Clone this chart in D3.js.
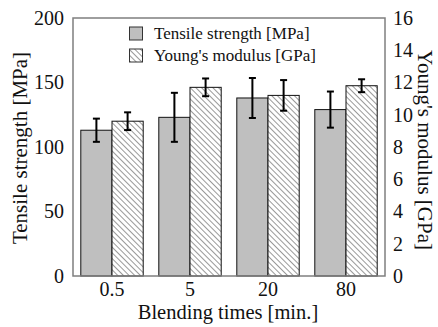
<!DOCTYPE html>
<html><head><meta charset="utf-8">
<style>svg text, text { font-family: Liberation Serif, Times New Roman, serif !important; }</style>
<script src="https://cdn.jsdelivr.net/npm/d3@7"></script>
</head><body style="margin:0;background:#fff">
<svg id="c" width="438" height="327" style="display:block">
<text transform="translate(27,148) rotate(-90)" text-anchor="middle" font-size="21" fill="#111" style="font-family:'Liberation Serif'">Tensile strength [MPa]</text>
<text transform="translate(418,150) rotate(90)" text-anchor="middle" font-size="21" fill="#111" style="font-family:'Liberation Serif'">Young's modulus [GPa]</text>
<text x="228" y="319" text-anchor="middle" font-size="20.5" fill="#111" style="font-family:'Liberation Serif'">Blending times [min.]</text>
</svg>
<script>
const categories = ["0.5", "5", "20", "80"];
const tensile = [113, 123, 138, 129];
const tensileErr = [9, 19, 15.5, 14];
const modulus = [9.6, 11.7, 11.2, 11.8];
const modulusErr = [0.55, 0.55, 0.95, 0.4];
const leftTicks = [0, 50, 100, 150, 200];
const rightTicks = [0, 2, 4, 6, 8, 10, 12, 14, 16];

const FONT = "Liberation Serif";
const svg = d3.select("#c");
const L = 73, R = 385, T = 18, B = 276;

const defs = svg.append("defs");
const pat = defs.append("pattern").attr("id","hatch").attr("patternUnits","userSpaceOnUse")
  .attr("width",4).attr("height",4).attr("patternTransform","rotate(-45)");
pat.append("rect").attr("width",4).attr("height",4).attr("fill","#fff");
pat.append("line").attr("x1",0).attr("y1",0).attr("x2",0).attr("y2",4).attr("stroke","#333").attr("stroke-width",1);

const x = d3.scaleBand().domain(categories).range([L,R]).paddingInner(0.2).paddingOuter(0.1);
const xs = d3.scaleBand().domain(["t","m"]).range([0,x.bandwidth()]);
const yL = d3.scaleLinear().domain([0,200]).range([B,T]);
const yR = d3.scaleLinear().domain([0,16]).range([B,T]);

const g = svg.append("g");
categories.forEach((c,i)=>{
  const x0 = x(c);
  g.append("rect").attr("x",x0+xs("t")).attr("y",yL(tensile[i])).attr("width",xs.bandwidth())
    .attr("height",B-yL(tensile[i])).attr("fill","#bfbfbf").attr("stroke","#111").attr("stroke-width",1);
  g.append("rect").attr("x",x0+xs("m")).attr("y",yR(modulus[i])).attr("width",xs.bandwidth())
    .attr("height",B-yR(modulus[i])).attr("fill","url(#hatch)").attr("stroke","#111").attr("stroke-width",1);
});
function err(cx, y1, y2){
  g.append("line").attr("x1",cx).attr("x2",cx).attr("y1",y1).attr("y2",y2).attr("stroke","#000").attr("stroke-width",2);
  [y1,y2].forEach(yy=>g.append("line").attr("x1",cx-3.5).attr("x2",cx+3.5).attr("y1",yy).attr("y2",yy).attr("stroke","#000").attr("stroke-width",2));
}
categories.forEach((c,i)=>{
  const cx1 = x(c)+xs("t")+xs.bandwidth()/2;
  err(cx1, yL(tensile[i]+tensileErr[i]), yL(tensile[i]-tensileErr[i]));
  const cx2 = x(c)+xs("m")+xs.bandwidth()/2;
  err(cx2, yR(modulus[i]+modulusErr[i]), yR(modulus[i]-modulusErr[i]));
});

svg.append("rect").attr("x",L).attr("y",T).attr("width",R-L).attr("height",B-T)
  .attr("fill","none").attr("stroke","#7f7f7f").attr("stroke-width",1.5);

const axL = svg.append("g").attr("transform",`translate(${L},0)`)
  .call(d3.axisLeft(yL).tickValues(leftTicks).tickSize(0).tickPadding(9));
const axR = svg.append("g").attr("transform",`translate(${R},0)`)
  .call(d3.axisRight(yR).tickValues(rightTicks).tickSize(0).tickPadding(8));
const axB = svg.append("g").attr("transform",`translate(0,${B})`)
  .call(d3.axisBottom(x).tickSize(0).tickPadding(6));
[axL,axR,axB].forEach(a=>{a.select(".domain").remove();
  a.attr("font-family",FONT).attr("font-size",20);
  a.selectAll("text").attr("fill","#111");});

const leg = [{t:"Tensile strength [MPa]", f:"#bfbfbf"},{t:"Young's modulus [GPa]", f:"url(#hatch)"}];
leg.forEach((d,i)=>{
  const yy = 27 + i*22;
  svg.append("rect").attr("x",129.5).attr("y",yy).attr("width",13).attr("height",13)
    .attr("fill",d.f).attr("stroke","#333").attr("stroke-width",1);
  svg.append("text").attr("x",154).attr("y",yy+12).attr("font-family",FONT).attr("font-size",17).attr("fill","#111").text(d.t);
});
</script>
</body></html>
